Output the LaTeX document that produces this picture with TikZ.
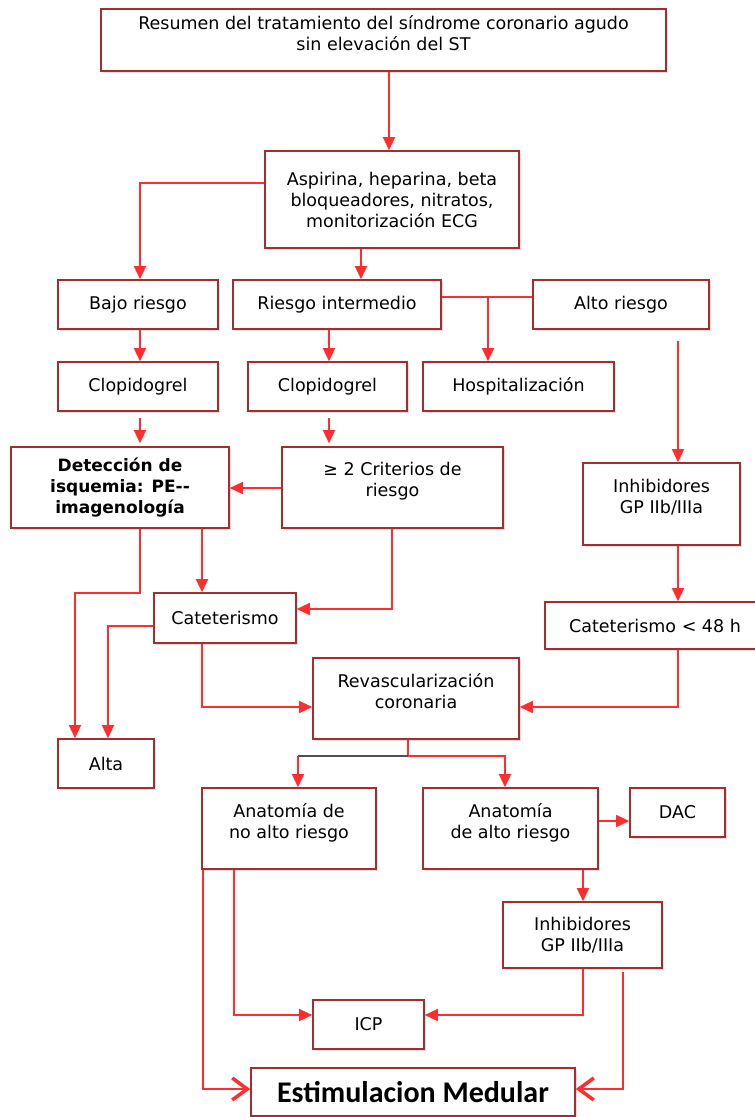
\documentclass[tikz,border=0pt]{standalone}
\usepackage{fontspec}
\setmainfont{DejaVu Sans}
\newfontfamily\calibrifont{Carlito}
\usetikzlibrary{arrows.meta,shadows}
\definecolor{boxred}{RGB}{165,45,45}
\definecolor{linered}{RGB}{255,45,45}
\definecolor{darkline}{RGB}{80,80,80}
\tikzset{%
  >={Triangle[width=12pt,length=13pt]},
  % Specifications for style of nodes:
        base/.style = {rectangle, draw=boxred, line width=1.6pt, fill=white,
                       inner sep=2pt, align=center,
                       drop shadow={shadow xshift=1.5pt, shadow yshift=-1.5pt,
                                    opacity=0.25}},
         box/.style = {base, font=\fontsize{17.5}{21}\selectfont},
     boldbox/.style = {base, font=\bfseries\fontsize{17}{21}\selectfont},
    finalbox/.style = {base, font=\calibrifont\bfseries\fontsize{30}{32}\selectfont},
  % Specifications for style of connectors:
        flow/.style = {draw=linered, line width=1.4pt},
       final/.style = {flow, -{Straight Barb[length=15pt,width=22pt,line width=3.5pt]}},
                     }

\begin{document}
\begin{tikzpicture}[x=1pt, y=-1pt]
  \useasboundingbox (0,0) rectangle (755,1117);
  % Specification of nodes (position, etc.)
  \node (title)     [box, minimum width=565pt, minimum height=62pt] at (383.5,40)
        {Resumen del tratamiento del síndrome coronario agudo\\sin elevación del ST\\[-7pt]};
  \node (aspirina)  [box, minimum width=254pt, minimum height=97pt] at (392,199.5)
        {Aspirina, heparina, beta\\bloqueadores, nitratos,\\monitorización ECG};
  \node (bajo)      [box, minimum width=160pt, minimum height=49pt] at (138,304.5) {Bajo riesgo};
  \node (intermedio)[box, minimum width=208pt, minimum height=49pt] at (337,304.5) {Riesgo intermedio};
  \node (alto)      [box, minimum width=176pt, minimum height=49pt] at (621,304.5) {Alto riesgo};
  \node (clopA)     [box, minimum width=160pt, minimum height=49pt] at (138,386.5) {Clopidogrel};
  \node (clopB)     [box, minimum width=159pt, minimum height=49pt] at (327.5,386.5) {Clopidogrel};
  \node (hosp)      [box, minimum width=191pt, minimum height=49pt] at (518.5,386.5) {Hospitalización};
  \node (deteccion) [boldbox, minimum width=218pt, minimum height=81pt] at (120,487.5)
        {Detección de\\isquemia: PE-{}-\\imagenología};
  \node (criterios) [box, minimum width=221pt, minimum height=81pt] at (392.5,487.5)
        {≥ 2 Criterios de\\riesgo\\[-4pt]};
  \node (inhibA)    [box, minimum width=157pt, minimum height=82pt] at (661.5,504)
        {Inhibidores\\GP IIb/IIIa\\[-5pt]};
  \node (cat)       [box, minimum width=142pt, minimum height=50pt] at (225,618) {Cateterismo};
  \node (cat48)     [box, minimum width=220pt, minimum height=47pt] at (655,625.5)
        {Cateterismo < 48 h};
  \node (revasc)    [box, minimum width=206pt, minimum height=81pt] at (416,698.5)
        {Revascularización\\coronaria\\[-6pt]};
  \node (alta)      [box, minimum width=96pt, minimum height=49pt] at (106,763.5) {Alta};
  \node (anatno)    [box, minimum width=174pt, minimum height=81pt] at (289,828.5)
        {Anatomía de\\no alto riesgo\\[-6pt]};
  \node (anatalto)  [box, minimum width=175pt, minimum height=81pt] at (510.5,828.5)
        {Anatomía\\de alto riesgo\\[-6pt]};
  \node (dac)       [box, minimum width=95pt, minimum height=49pt] at (677.5,812.5) {DAC};
  \node (inhibB)    [box, minimum width=159pt, minimum height=66pt] at (582.5,935)
        {Inhibidores\\GP IIb/IIIa};
  \node (icp)       [box, minimum width=111pt, minimum height=49pt] at (368.5,1024.5) {ICP};
  \node (estim)     [finalbox, minimum width=324pt, minimum height=48pt] at (413,1092)
        {Estimulacion Medular};

  % Specification of lines between nodes specified above
  \coordinate (altoOut)  at (678,341);
  \coordinate (riskJoin) at (488,297);
  \coordinate (revJoin)  at (408,756);
  \coordinate (noJoin)   at (298,756);
  \draw[flow, ->] (title.south -| 389,0) -- (aspirina.north -| 389,0);
  \draw[flow, ->] (aspirina.west |- 0,183) -| (bajo.north -| 140,0);
  \draw[flow, ->] (aspirina.south -| 361,0) -- (intermedio.north -| 361,0);
  \draw[flow]     (intermedio.east |- 0,297) -- (alto.west |- 0,297);
  \draw[flow, ->] (riskJoin) -- (hosp.north -| riskJoin);
  \draw[flow, ->] (bajo.south -| 140,0) -- (clopA.north -| 140,0);
  \draw[flow, ->] (intermedio.south -| 329,0) -- (clopB.north -| 329,0);
  \draw[flow, ->] (altoOut) -- (inhibA.north -| altoOut);
  \draw[flow, ->, shorten <=6pt, shorten >=3pt] (clopA.south -| 140,0) -- (deteccion.north -| 140,0);
  \draw[flow, ->, shorten <=6pt, shorten >=3pt] (clopB.south -| 329,0) -- (criterios.north -| 329,0);
  \draw[flow, ->] (criterios.west |- 0,488) -- (deteccion.east |- 0,488);
  \draw[flow, ->] (deteccion.south -| 140,0) |- (75,593) -- (alta.north -| 75,0);
  \draw[flow, ->] (deteccion.south -| 202,0) -- (cat.north -| 202,0);
  \draw[flow, ->] (criterios.south -| 392,0) |- (cat.east |- 0,609);
  \draw[flow, ->] (cat.west |- 0,626) -| (alta.north -| 108,0);
  \draw[flow, ->] (cat.south -| 202,0) |- (revasc.west |- 0,707);
  \draw[flow, ->] (inhibA.south -| 678,0) -- (cat48.north -| 678,0);
  \draw[flow, ->] (cat48.south -| 678,0) |- (revasc.east |- 0,707);
  \draw[flow]     (revasc.south -| revJoin) -- (revJoin);
  \draw[darkline, line width=1.4pt] (revJoin) -- (noJoin);
  \draw[flow, ->] (noJoin) -- (anatno.north -| noJoin);
  \draw[flow, ->] (revJoin) -| (anatalto.north -| 505,0);
  \draw[flow, ->] (anatalto.east |- 0,821) -- (dac.west |- 0,821);
  \draw[flow, ->] (anatalto.south -| 583,0) -- (inhibB.north -| 583,0);
  \draw[flow, ->] (inhibB.south -| 583,0) |- (icp.east |- 0,1015);
  \draw[flow, ->] (anatno.south -| 234,0) |- (icp.west |- 0,1015);
  \draw[final]    (anatno.south -| 203,0) |- (estim.west |- 0,1089);
  \draw[final, shorten <=3pt] (inhibB.south -| 623,0) |- (estim.east |- 0,1089);
\end{tikzpicture}
\end{document}
